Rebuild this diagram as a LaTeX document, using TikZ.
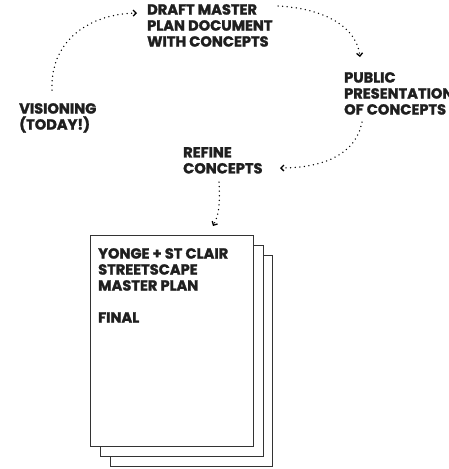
\documentclass[tikz,border=0pt]{standalone}
\usepackage{fontspec}
\setmainfont{Poppins}[BoldFeatures={FakeBold=1.6}]
\usetikzlibrary{arrows.meta}
\begin{document}
\begin{tikzpicture}[x=1pt,y=-1pt,
  lbl/.style={anchor=north west,inner sep=0pt,align=left,
    font=\fontsize{14.6}{16}\selectfont\bfseries,text=black!88},
  sheet/.style={draw=black!80,line width=0.9pt,fill=white},
  flow/.style={line width=1.5pt,line cap=round,dash pattern=on 0pt off 4.6pt,
    -{Straight Barb[length=3pt,width=6pt,line width=1.3pt]}}]
\useasboundingbox (0,0) rectangle (449,469);
% stacked sheets of the final plan
\draw[sheet] (110,255) rectangle (272,466);
\draw[sheet] (100,245) rectangle (263,456);
\draw[sheet] (90,235) rectangle (253,446);
\node[lbl] (plan) at (98,248) {YONGE + ST CLAIR\\STREETSCAPE\\MASTER PLAN\\[16pt]FINAL};
% process steps
\node[lbl] (draft) at (147,4) {DRAFT MASTER\\PLAN DOCUMENT\\WITH CONCEPTS};
\node[lbl] (pub) at (344,72) {PUBLIC\\PRESENTATION\\OF CONCEPTS};
\node[lbl] (vis) at (19,103) {VISIONING\\(TODAY!)};
\node[lbl] (ref) at (183,147) {REFINE\\CONCEPTS};
% connector ends
\coordinate (v0) at (52,90);
\coordinate (d1) at (137,13);
\coordinate (d0) at (278,6);
\coordinate (p1) at (360,57);
\coordinate (p0) at (362,122);
\coordinate (r1) at (280,168);
\coordinate (r0) at (219,182);
\coordinate (f1) at (213,226);
\draw[flow] (v0) .. controls (50,40) and (90,14) .. (d1);
\draw[flow] (d0) .. controls (330,9) and (357,30) .. (p1);
\draw[flow] (p0) .. controls (356,155) and (322,168) .. (r1);
\draw[flow] (r0) .. controls (220,205) and (219,215) .. (f1);
\end{tikzpicture}
\end{document}
